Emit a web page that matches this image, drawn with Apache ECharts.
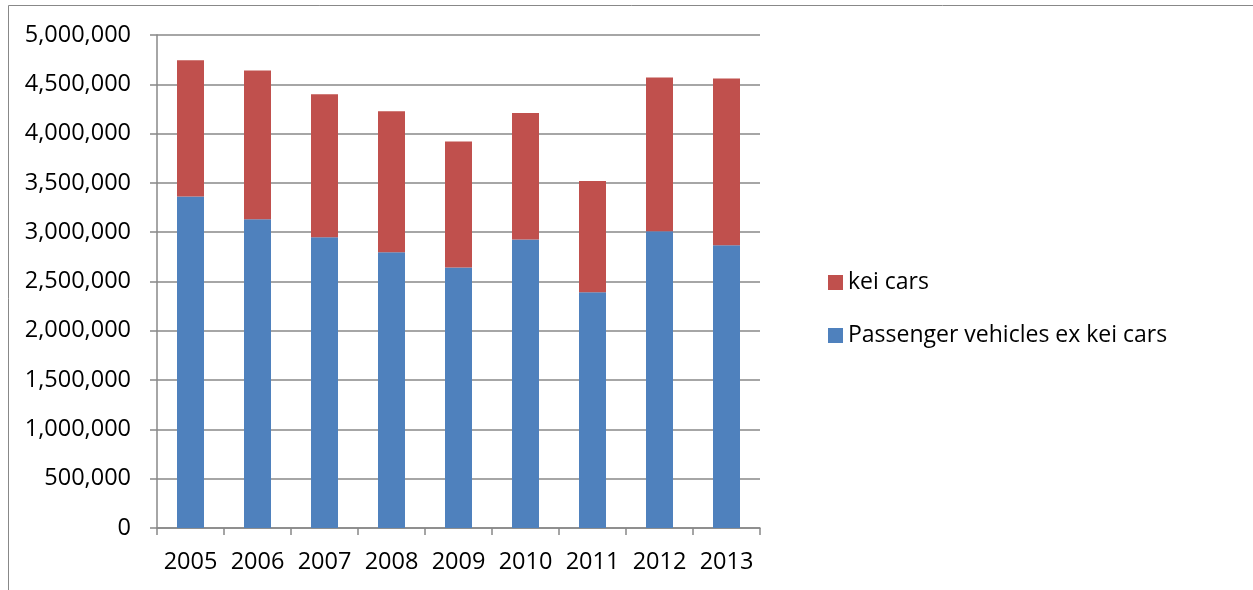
<!DOCTYPE html>
<html>
<head>
<meta charset="utf-8">
<script src="https://cdn.jsdelivr.net/npm/echarts@6/dist/echarts.min.js"></script>
<style>
  html, body { margin: 0; padding: 0; background: #fff; }
  #chart { width: 1253px; height: 590px; }
</style>
</head>
<body>
<div id="chart"></div>
<script>
// Japanese new passenger car sales by year
const years = ['2005', '2006', '2007', '2008', '2009', '2010', '2011', '2012', '2013'];
const passengerExKei = [3361000, 3131000, 2948000, 2796000, 2641000, 2925000, 2390000, 3009000, 2867000];
const keiCars = [1382000, 1508000, 1451000, 1430000, 1278000, 1284000, 1129000, 1559000, 1691000];

const FONT = '"Open Sans", "Noto Sans", sans-serif';
const AXIS_GREY = '#888888';

const chart = echarts.init(document.getElementById('chart'), null, { renderer: 'canvas' });

chart.setOption({
  animation: false,
  backgroundColor: '#ffffff',
  textStyle: { fontFamily: FONT },
  graphic: [{
    type: 'rect',
    shape: { x: 8.5, y: 5.5, width: 1400, height: 700 },
    style: { fill: 'none', stroke: AXIS_GREY, lineWidth: 1 },
    silent: true
  }],
  grid: { left: 157, right: 493, top: 35, bottom: 62, containLabel: false },
  legend: {
    orient: 'vertical',
    left: 823,
    top: 266,
    itemWidth: 15,
    itemHeight: 15,
    itemGap: 30,
    icon: 'rect',
    data: ['kei cars', 'Passenger vehicles ex kei cars'],
    textStyle: { fontFamily: FONT, fontSize: 23, color: '#000' }
  },
  xAxis: {
    type: 'category',
    data: years,
    axisLine: { lineStyle: { color: AXIS_GREY, width: 1.5 } },
    axisTick: { show: true, alignWithLabel: false, interval: 0, length: 7, lineStyle: { color: AXIS_GREY, width: 1.5 } },
    axisLabel: { interval: 0, hideOverlap: false, fontFamily: FONT, fontSize: 23.5, color: '#000', margin: 22 }
  },
  yAxis: {
    type: 'value',
    min: 0,
    max: 5000000,
    interval: 500000,
    axisLine: { show: true, lineStyle: { color: AXIS_GREY, width: 1.5 } },
    axisTick: { show: true, length: 7, lineStyle: { color: AXIS_GREY, width: 1.5 } },
    splitLine: { show: true, lineStyle: { color: AXIS_GREY, width: 1.5 } },
    axisLabel: {
      fontFamily: FONT, fontSize: 23.5, color: '#000', margin: 26,
      formatter: v => v.toLocaleString('en-US')
    }
  },
  series: [
    {
      name: 'Passenger vehicles ex kei cars',
      type: 'bar',
      stack: 'total',
      barWidth: 27,
      data: passengerExKei,
      itemStyle: { color: '#4F81BD' }
    },
    {
      name: 'kei cars',
      type: 'bar',
      stack: 'total',
      barWidth: 27,
      data: keiCars,
      itemStyle: { color: '#C0504D' }
    }
  ]
});
</script>
</body>
</html>
